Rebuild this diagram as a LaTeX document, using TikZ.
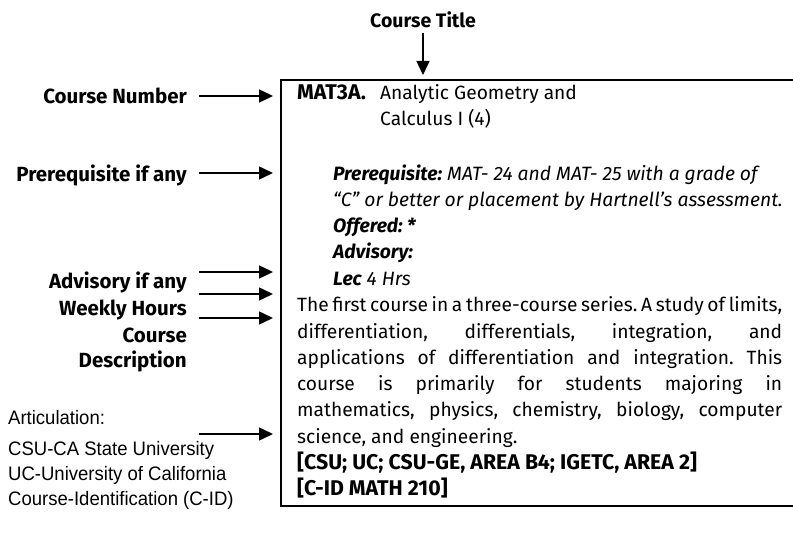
\documentclass[tikz,border=0pt]{standalone}
\usepackage{fontspec}
\setmainfont{Fira Sans}
\newfontfamily\narrowfont[FakeStretch=0.95]{Liberation Sans}
\usetikzlibrary{arrows.meta}

\begin{document}
\frenchspacing
\begin{tikzpicture}[x=1pt, y=-1pt,
        lbl/.style={font=\fontsize{20.5}{23}\selectfont\bfseries, inner sep=0pt, anchor=base east},
        txt/.style={font=\fontsize{19.2}{23}\selectfont, inner sep=0pt, anchor=base west},
        slant/.style={txt, font=\fontsize{19.3}{23}\selectfont\itshape},
        heavy/.style={txt, font=\fontsize{21.3}{23}\selectfont\bfseries},
        art/.style={font=\fontsize{19.5}{23}\narrowfont, inner sep=0pt, anchor=base west},
        arrow/.style={-{Triangle[length=14pt, width=13pt]}, line width=1.5pt}
    ]
        \useasboundingbox (0,0) rectangle (793,540);
        % catalogue entry frame, open to the right
        \draw[line width=2pt] (795,80) -- (281,80) -- (281,506) -- (795,506);

        \node[lbl, anchor=base, font=\fontsize{19.5}{23}\selectfont\bfseries] (title) at (423,28) {Course Title};
        \node[lbl] (number) at (187,104) {Course Number};
        \node[lbl] (prereq) at (187,182) {Prerequisite if any};
        \node[lbl] (advise) at (187,289) {Advisory if any};
        \node[lbl] (weekly) at (187,316) {Weekly Hours};
        \node[lbl] (descA) at (187,342) {Course};
        \node[lbl] (descB) at (187,367) {Description};

        \node[art] (artA) at (8,424) {Articulation:};
        \node[art] (artB) at (8,455) {CSU-CA State University};
        \node[art] (artC) at (8,480) {UC-University of California};
        \node[art] (artD) at (8,505) {Course-Identification (C-ID)};

        \node[heavy] (code) at (297,100) {MAT3A.};
        \node[txt] (nameA) at (380,100) {Analytic Geometry and};
        \node[txt] (nameB) at (380,126) {Calculus I (4)};
        \node[slant] (reqA) at (333,181) {\textbf{Prerequisite:} MAT- 24 and MAT- 25 with a grade of};
        \node[slant] (reqB) at (333,207) {“C” or better or placement by Hartnell’s assessment.};
        \node[slant] (offered) at (333,233) {\textbf{Offered: *}};
        \node[slant] (advisory) at (333,259) {\textbf{Advisory:}};
        \node[slant] (hours) at (333,285.5) {\textbf{Lec} 4 Hrs};
        \foreach \desc [count=\i from 0] in {
            {The first course in a three-course series. A study of limits,},
            {differentiation, differentials, integration, and},
            {applications of differentiation and integration. This},
            {course is primarily for students majoring in},
            {mathematics, physics, chemistry, biology, computer}}
            \node[txt] (desc\i) at (297,{312+26.2*\i}) {\makebox[485pt][s]{\desc}};
        \node[txt] (desc5) at (297,443) {science, and engineering.};
        \node[heavy] (transfer) at (297,469) {[CSU; UC; CSU-GE, AREA B4; IGETC, AREA 2]};
        \node[heavy] (cid) at (297,495.5) {[C-ID MATH 210]};

        \coordinate (titleS) at (423,33);  \coordinate (titleE) at (423,75);
        \coordinate (numberS) at (199,96);  \coordinate (numberE) at (273,96);
        \coordinate (prereqS) at (199,173); \coordinate (prereqE) at (273,173);
        \coordinate (adviseS) at (199,272); \coordinate (adviseE) at (273,272);
        \coordinate (weeklyS) at (199,294); \coordinate (weeklyE) at (273,294);
        \coordinate (descS) at (199,318);   \coordinate (descE) at (273,318);
        \coordinate (artS) at (199,434);    \coordinate (artE) at (273,434);
        \draw[arrow] (titleS) -- (titleE);
        \draw[arrow] (numberS) -- (numberE);
        \draw[arrow] (prereqS) -- (prereqE);
        \draw[arrow] (adviseS) -- (adviseE);
        \draw[arrow] (weeklyS) -- (weeklyE);
        \draw[arrow] (descS) -- (descE);
        \draw[arrow] (artS) -- (artE);
    \end{tikzpicture}
\end{document}
